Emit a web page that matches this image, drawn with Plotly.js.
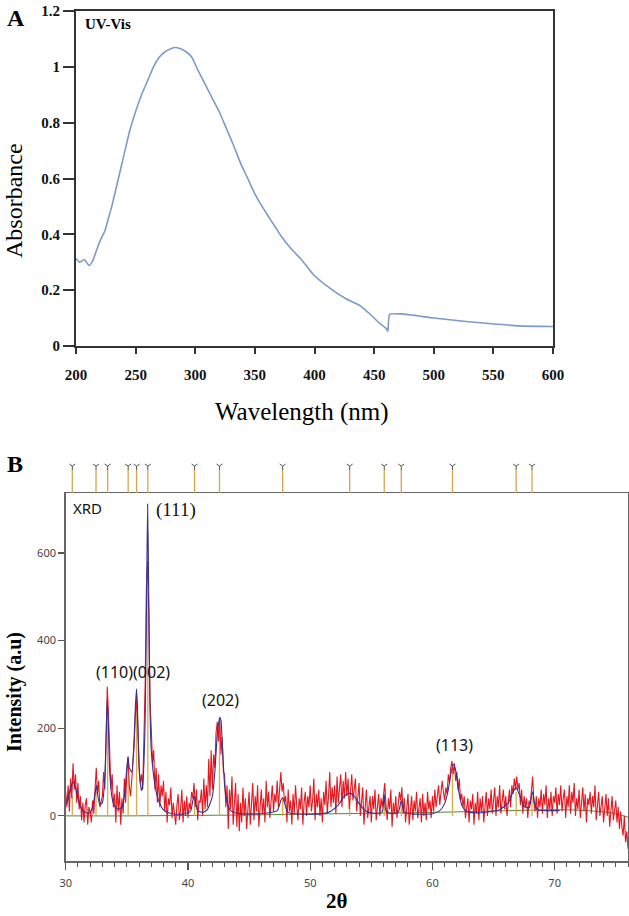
<!DOCTYPE html>
<html>
<head>
<meta charset="utf-8">
<script src="https://cdn.plot.ly/plotly-3.0.1.min.js"></script>
<style>html,body{margin:0;padding:0;background:#fff;}#chart{width:629px;height:916px;}</style>
</head>
<body>
<div id="chart"></div>
<script>
// ---------- Panel A: UV-Vis ----------
const uvWavelength = [200,203,207,211,214,217,220,224,227,230,235,240,245,250,255,260,265,270,275,280,283,287,292,297,302,308,314,320,326,332,338,344,350,356,362,368,372,380,389,399,412,426,438,445,450,455,460,461.5,463,473,500,527,551,571,600];
const uvAbsorbance = [0.313,0.300,0.310,0.288,0.305,0.340,0.375,0.41,0.455,0.50,0.59,0.68,0.77,0.84,0.90,0.95,1.00,1.035,1.055,1.066,1.069,1.066,1.055,1.035,0.99,0.94,0.89,0.84,0.78,0.72,0.655,0.60,0.545,0.50,0.46,0.42,0.394,0.35,0.31,0.256,0.21,0.17,0.145,0.12,0.10,0.08,0.063,0.053,0.113,0.115,0.10,0.088,0.079,0.072,0.07];

// ---------- Panel B: XRD ----------
const xrdStart = 30, xrdStep = 0.1;   // 2θ of first sample, sampling step
const xrdIntensity = [
 55,20,70,10,85,40,120,60,95,30,
 75,15,45,-10,30,-15,25,40,-20,20,
 10,-15,35,5,60,110,50,80,20,35,
 45,100,60,160,295,230,120,60,95,20,
 50,-15,70,10,55,-20,40,5,85,30,
 100,135,70,45,80,120,160,230,270,200,
 110,75,95,60,170,300,520,580,470,260,
 200,120,150,60,110,30,95,20,70,45,
 80,10,55,-15,40,25,65,-5,30,10,
 -20,25,50,-10,15,60,-15,35,0,45,
 -5,30,15,55,40,75,20,60,-10,35,
 30,60,0,85,15,70,20,130,45,150,
 60,140,110,190,215,170,225,140,180,100,
 95,20,70,-30,60,15,90,-20,40,75,
 -25,50,-35,30,-15,65,0,40,-30,20,
 55,-20,35,75,-10,45,10,70,-25,30,
 60,5,40,-15,80,20,55,-5,35,70,
 10,50,30,80,20,60,100,55,75,30,
 45,-15,60,10,35,-20,50,5,70,25,
 -10,40,15,65,-20,30,55,0,45,20,
 70,10,35,85,-10,50,20,60,0,40,
 -15,55,25,80,5,45,100,20,65,30,
 70,5,90,30,60,95,20,80,40,100,
 45,85,15,70,95,35,60,85,10,50,
 75,0,45,65,-20,35,60,-5,30,45,
 -15,45,15,60,-10,30,50,0,40,20,
 50,75,25,-10,40,15,60,-25,30,5,
 45,-5,25,55,35,65,5,40,-15,30,
 50,-20,20,45,-10,35,10,55,-5,25,
 40,-15,50,0,30,-10,55,15,35,-5,
 45,10,60,20,40,70,25,50,80,55,
 35,65,50,95,75,110,125,95,120,80,
 100,60,85,35,50,20,45,-5,25,40,
 -15,35,15,50,-20,30,5,55,-10,40,
 10,45,-15,30,55,0,40,15,60,5,
 35,65,0,45,20,70,5,40,60,15,
 45,0,35,60,20,70,50,85,60,90,
 60,75,25,60,5,45,20,40,-5,35,
 25,55,90,30,10,45,-5,40,20,60,
 5,50,25,70,-5,40,15,55,0,45,
 30,65,5,50,25,70,10,40,60,-5,
 45,20,70,5,55,30,75,0,40,15,
 60,-5,35,65,10,50,-15,40,25,55,
 5,45,20,70,-10,35,55,0,30,45,
 -15,30,50,0,40,-25,25,45,-10,20,
 35,-15,20,-30,10,-25,-45,0,-60,-35,
 -75
];

const fitTheta = [30.0,30.2,30.4,30.6,30.8,31.0,31.2,31.5,31.8,32.0,32.2,32.4,32.5,32.6,32.8,33.0,33.2,33.3,33.4,33.5,33.6,33.8,34.0,34.3,34.6,34.8,35.0,35.1,35.2,35.4,35.6,35.7,35.8,35.9,36.0,36.1,36.2,36.3,36.4,36.5,36.6,36.7,36.8,36.9,37.0,37.2,37.4,37.6,37.8,38.0,38.3,38.7,39.5,40.2,40.4,40.5,40.6,40.8,41.2,41.6,42.0,42.2,42.4,42.6,42.7,42.8,43.0,43.2,43.5,44.0,46.0,47.3,47.6,47.75,47.9,48.2,50.0,51.5,52.3,52.8,53.2,53.6,54.0,54.6,55.5,55.9,56.05,56.2,56.6,57.2,57.45,57.7,58.5,60.0,60.6,61.0,61.3,61.5,61.7,61.9,62.1,62.4,62.8,63.5,64.5,65.5,66.2,66.6,66.85,67.1,67.5,67.9,68.1,68.2,68.35,68.6,69.5,70.4];
const fitIntensity = [25,40,65,78,65,40,22,10,6,8,20,50,70,50,25,30,90,180,268,200,100,40,22,15,20,45,110,135,110,100,180,250,290,220,120,75,58,70,120,220,450,712,480,240,150,90,55,35,22,14,8,5,4,10,35,45,35,12,8,15,45,100,185,225,218,170,70,30,12,6,5,12,35,42,30,8,4,8,25,45,52,45,28,10,5,10,50,12,5,8,35,8,4,5,12,28,60,95,118,105,65,25,10,7,9,14,30,55,64,50,22,18,45,55,30,14,12,12];

const baseTheta = [30,35,40,45,50,55,60,65,68,70,72,74,75,76];
const baseIntensity = [0,0,1,2,4,6,8,11,13,14,13,9,5,-3];

const refPeaks = [30.54,32.48,33.43,35.11,35.80,36.72,40.54,42.58,47.75,53.23,56.06,57.45,61.64,66.85,68.15];
const refHeights = [45,55,240,120,260,650,40,210,38,45,45,30,100,55,45];

const peakLabels = ['(111)','(110)(002)','(202)','(113)'];

// ---------- helpers ----------
const W = 629, H = 916;
const px = x => x / W;
const py = y => 1 - y / H;

const stickX = [], stickY = [], topX = [], topY = [];
refPeaks.forEach((p, i) => {
  stickX.push(p, p, null); stickY.push(0, refHeights[i], null);
  topX.push(p, p, null); topY.push(0, 0.75, null);
});

const serif = 'Liberation Serif, Times New Roman, serif';
const sans = 'Noto Sans, Open Sans, sans-serif';

function ann(text, x, y, font, extra) {
  return Object.assign({text, x: px(x), y: py(y), xref: 'paper', yref: 'paper', showarrow: false,
    xanchor: 'center', yanchor: 'middle', font}, extra || {});
}

const traces = [
  {x: uvWavelength, y: uvAbsorbance, type: 'scatter', mode: 'lines', xaxis: 'x', yaxis: 'y',
   line: {color: '#7d9bc6', width: 1.6, shape: 'spline', smoothing: 0.5}},
  {x: baseTheta, y: baseIntensity, type: 'scatter', mode: 'lines', xaxis: 'x2', yaxis: 'y2',
   line: {color: '#4f8a3c', width: 1, shape: 'spline'}},
  {x: stickX, y: stickY, type: 'scatter', mode: 'lines', xaxis: 'x2', yaxis: 'y2',
   line: {color: '#dcaa48', width: 1.3}},
  {y: xrdIntensity, x0: xrdStart, dx: xrdStep, type: 'scatter', mode: 'lines', xaxis: 'x2', yaxis: 'y2',
   line: {color: '#e8161e', width: 1.1}},
  {x: fitTheta, y: fitIntensity, type: 'scatter', mode: 'lines', xaxis: 'x2', yaxis: 'y2',
   line: {color: '#36308f', width: 1.1, shape: 'spline', smoothing: 0.6}},
  {x: topX, y: topY, type: 'scatter', mode: 'lines', xaxis: 'x2', yaxis: 'y3',
   line: {color: '#d6a64c', width: 1.3}, cliponaxis: false},
  {x: refPeaks, y: refPeaks.map(() => 0.87), type: 'scatter', mode: 'markers', xaxis: 'x2', yaxis: 'y3',
   marker: {symbol: 'y-down-open', size: 5, color: '#555', line: {color: '#555', width: 1}}, cliponaxis: false}
];

const layout = {
  width: W, height: H,
  margin: {l: 0, r: 0, t: 0, b: 0},
  paper_bgcolor: '#fff', plot_bgcolor: '#fff',
  showlegend: false,
  xaxis: {
    domain: [px(76), px(553)], anchor: 'y', range: [200, 600], dtick: 50, tick0: 200,
    showline: true, linecolor: '#333', linewidth: 2, mirror: true,
    ticks: 'outside', ticklen: 6, tickwidth: 2, tickcolor: '#333',
    ticklabelstandoff: 8,
    showgrid: false, zeroline: false,
    tickfont: {family: serif, size: 15, color: '#111', weight: 'bold'}
  },
  yaxis: {
    domain: [py(346), py(11)], anchor: 'x', range: [0, 1.2], dtick: 0.2, tick0: 0,
    showline: true, linecolor: '#333', linewidth: 2, mirror: true,
    ticks: 'outside', ticklen: 11, tickwidth: 2, tickcolor: '#333',
    showgrid: false, zeroline: false,
    tickfont: {family: serif, size: 15, color: '#111', weight: 'bold'}
  },
  xaxis2: {
    domain: [px(65.7), px(628)], anchor: 'y2', range: [30, 76], dtick: 10, tick0: 30,
    showline: true, linecolor: '#666', linewidth: 1.5, mirror: true,
    ticks: 'outside', ticklen: 7, tickwidth: 1.2, tickcolor: '#555',
    minor: {dtick: 1, ticks: 'outside', ticklen: 4, tickcolor: '#555', tickwidth: 1},
    ticklabelstandoff: 4,
    showgrid: false, zeroline: false,
    tickfont: {family: sans, size: 11, color: '#444'}
  },
  yaxis2: {
    domain: [py(861), py(493)], anchor: 'x2', range: [-103, 737], dtick: 200, tick0: 0,
    showline: true, linecolor: '#666', linewidth: 1.5, mirror: true,
    ticks: 'outside', ticklen: 6, tickwidth: 1.2, tickcolor: '#555',
    showgrid: false, zeroline: false,
    tickfont: {family: sans, size: 11, color: '#444'}
  },
  yaxis3: {domain: [py(493), py(462)], anchor: 'x2', range: [0, 1], visible: false, fixedrange: true},
  annotations: [
    ann('<b>A</b>', 16, 18, {family: serif, size: 24, color: '#000'}),
    ann('<b>UV-Vis</b>', 83, 24, {family: serif, size: 15, color: '#000'}, {xanchor: 'left'}),
    ann('Absorbance', 14, 201, {family: serif, size: 24, color: '#000'}, {textangle: -90}),
    ann('Wavelength (nm)', 302, 412, {family: serif, size: 25, color: '#000'}),
    ann('<b>B</b>', 15, 464, {family: serif, size: 24, color: '#000'}),
    ann('XRD', 71, 508, {family: sans, size: 15, color: '#111'}, {xanchor: 'left'}),
    ann(peakLabels[0], 176, 510, {family: serif, size: 19, color: '#111'}),
    ann(peakLabels[1], 133, 672, {family: sans, size: 16, color: '#111'}),
    ann(peakLabels[2], 220, 700, {family: sans, size: 16, color: '#111'}),
    ann(peakLabels[3], 454, 745, {family: sans, size: 16, color: '#111'}),
    ann('<b>Intensity (a.u)</b>', 14, 692, {family: serif, size: 20, color: '#000'}, {textangle: -90}),
    ann('<b>2θ</b>', 337, 901, {family: serif, size: 21, color: '#000'})
  ]
};

Plotly.newPlot('chart', traces, layout, {staticPlot: true, displayModeBar: false});
</script>
</body>
</html>
